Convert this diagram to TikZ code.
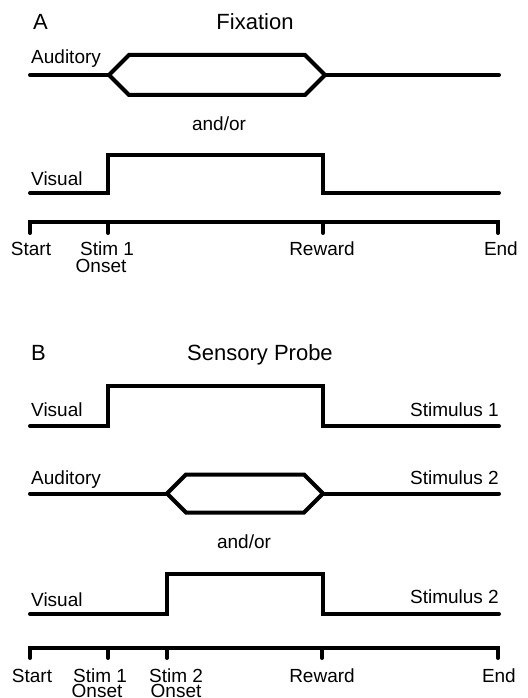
\documentclass[tikz,border=0pt]{standalone}
\usepackage{fontspec}
\setmainfont{Liberation Sans}
\begin{document}
\begin{tikzpicture}[x=1pt,y=-1pt,
  wave/.style={line width=4pt, line cap=round, line join=miter},
  lbl/.style={font=\fontsize{19}{21}\selectfont, inner sep=0pt, anchor=base},
  ttl/.style={font=\fontsize{22}{24}\selectfont, inner sep=0pt, anchor=base}]
\useasboundingbox (0,0) rectangle (527,698);

% ---------------- Panel A: Fixation ----------------
\node[ttl, anchor=base west] (labA) at (33,30) {A};
\node[ttl] (titA) at (255,30) {Fixation};

% auditory channel
\node[lbl, anchor=base west] (audA) at (31,64) {Auditory};
\coordinate (aA0) at (30,75);
\coordinate (aA1) at (109,75);
\coordinate (aA2) at (325,75);
\coordinate (aA3) at (499,75);
\draw[wave] (aA0) -- (aA1);
\draw[wave] (aA1) -- (129,55) -- (305,55) -- (aA2) -- (305,95) -- (129,95) -- cycle;
\draw[wave] (aA2) -- (aA3);

\node[lbl] (orA) at (219,131) {and/or};

% visual channel
\node[lbl, anchor=base west] (visA) at (31,185) {Visual};
\coordinate (vA0) at (30,193);
\coordinate (vA1) at (499,193);
\draw[wave] (vA0) -- (108,193) -- (108,155) -- (323,155) -- (323,193) -- (vA1);

% time axis
\coordinate (tA0) at (30,222);
\coordinate (tA1) at (498,222);
\draw[wave] (30,233) -- (tA0) -- (tA1) -- (498,233);
\draw[wave] (108,222) -- (108,233);
\draw[wave] (323,222) -- (323,233);
\node[lbl] (stA) at (31,255) {Start};
\node[lbl] (s1A) at (107,255) {Stim 1};
\node[lbl] (o1A) at (101,272) {Onset};
\node[lbl] (rwA) at (322,255) {Reward};
\node[lbl, anchor=base east] (enA) at (518,255) {End};

% ---------------- Panel B: Sensory Probe ----------------
\node[ttl, anchor=base west] (labB) at (31,360) {B};
\node[ttl] (titB) at (260,360) {Sensory Probe};

% visual stimulus 1
\node[lbl, anchor=base west] (visB1) at (31,416) {Visual};
\node[lbl, anchor=base east] (sB1) at (499,416) {Stimulus 1};
\coordinate (vB0) at (30,426);
\coordinate (vB1) at (499,426);
\draw[wave] (vB0) -- (108,426) -- (108,386) -- (323,386) -- (323,426) -- (vB1);

% auditory stimulus 2
\node[lbl, anchor=base west] (audB) at (31,484) {Auditory};
\node[lbl, anchor=base east] (sB2a) at (499,484) {Stimulus 2};
\coordinate (aB0) at (30,493.5);
\coordinate (aB1) at (167,493.5);
\coordinate (aB2) at (323,493.5);
\coordinate (aB3) at (499,493.5);
\draw[wave] (aB0) -- (aB1);
\draw[wave] (aB1) -- (186,474.5) -- (304,474.5) -- (aB2) -- (304,512.5) -- (186,512.5) -- cycle;
\draw[wave] (aB2) -- (aB3);

\node[lbl] (orB) at (244,548) {and/or};

% visual stimulus 2
\node[lbl, anchor=base west] (visB2) at (31,606) {Visual};
\node[lbl, anchor=base east] (sB2v) at (499,603) {Stimulus 2};
\coordinate (wB0) at (30,614);
\coordinate (wB1) at (499,614);
\draw[wave] (wB0) -- (167,614) -- (167,574) -- (323,574) -- (323,614) -- (wB1);

% time axis
\coordinate (tB0) at (30,648);
\coordinate (tB1) at (498,648);
\draw[wave] (30,658) -- (tB0) -- (tB1) -- (498,658);
\draw[wave] (108,648) -- (108,658);
\draw[wave] (167,648) -- (167,658);
\draw[wave] (322,648) -- (322,658);
\node[lbl] (stB) at (32,682) {Start};
\node[lbl] (s1B) at (100,682) {Stim 1};
\node[lbl] (o1B) at (97,697) {Onset};
\node[lbl] (s2B) at (176,682) {Stim 2};
\node[lbl] (o2B) at (176,697) {Onset};
\node[lbl] (rwB) at (322,682) {Reward};
\node[lbl, anchor=base east] (enB) at (516,682) {End};
\end{tikzpicture}
\end{document}
